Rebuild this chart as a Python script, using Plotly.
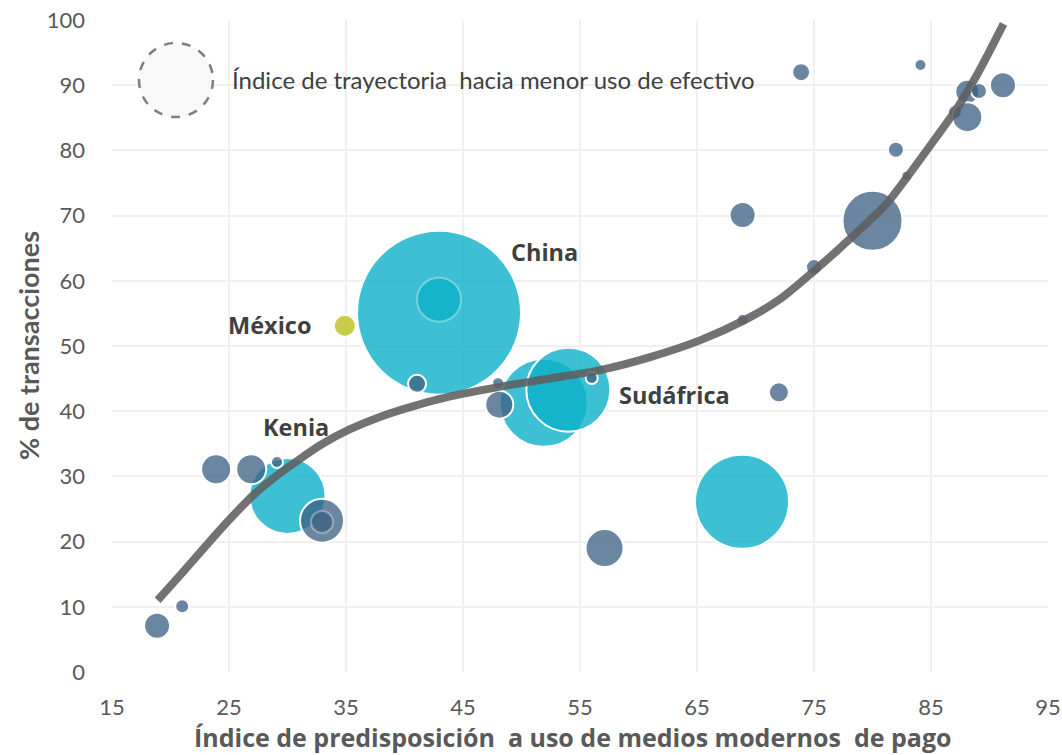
import plotly.graph_objects as go

# ---- data ----
oscuro_x = [18.85, 21.0, 23.9, 26.9, 29.1, 32.95, 32.95, 41.07, 48.0, 48.1, 56.0, 57.1,
            68.9, 68.9, 72.0, 73.9, 75.0, 80.0, 82.0, 82.9, 84.1, 87.05, 88.1, 89.1, 88.1, 91.15]
oscuro_y = [7.1, 10.1, 31.1, 31.1, 32.2, 23.2, 23.0, 44.2, 44.3, 41.0, 45.1, 19.0,
            70.1, 54.0, 42.9, 92.0, 62.1, 69.2, 80.1, 76.1, 93.1, 85.9, 89.0, 89.1, 85.1, 90.0]
oscuro_s = [13, 7, 15, 15, 6, 22, 11, 9, 6, 14, 6, 19,
            13, 6, 10, 9, 8, 30, 8, 5, 6, 7, 12, 8, 15, 13]

turq_x = [30.0, 42.95, 42.95, 51.9, 54.0, 68.85]
turq_y = [27.0, 55.1, 57.1, 41.3, 43.3, 26.1]
turq_s = [38, 82, 22, 44, 42, 47]

mexico_x = [34.9]
mexico_y = [53.1]
mexico_s = [11]

trend_x = [18.9, 21.0, 23.0, 25.0, 27.0, 29.0, 31.0, 33.0, 35.3, 38.0, 41.0, 44.0, 48.0, 52.0,
           56.7, 61.0, 65.3, 69.1, 72.1, 75.0, 77.2, 79.0, 81.2, 83.0, 85.2, 87.2, 88.9, 90.0, 91.2]
trend_y = [11.0, 15.2, 19.3, 23.3, 27.0, 30.0, 32.6, 35.0, 37.2, 39.2, 40.9, 42.3, 43.7, 44.9,
           46.3, 48.3, 50.9, 54.0, 57.2, 61.5, 65.0, 68.0, 71.8, 76.0, 81.4, 86.4, 91.5, 95.2, 99.4]

etiquetas = ["China", "México", "Sudáfrica", "Kenia"]
etq_x = [52.0, 28.5, 63.1, 30.7]
etq_y = [64.4, 53.2, 42.5, 37.6]

x_ticks = [15, 25, 35, 45, 55, 65, 75, 85, 95]
y_ticks = [0, 10, 20, 30, 40, 50, 60, 70, 80, 90, 100]

titulo_x = "Índice de predisposición  a uso de medios modernos  de pago"
titulo_y = "% de transacciones"
leyenda = "Índice de trayectoria  hacia menor uso de efectivo"

# ---- figure ----
fig = go.Figure()

def bubbles(x, y, s, color, inner=()):
    lc = ["rgba(255,255,255,0.35)" if i in inner else "white" for i in range(len(x))]
    fig.add_trace(go.Scatter(
        x=x, y=y, mode="markers", hoverinfo="skip",
        marker=dict(size=s, sizemode="diameter", sizeref=0.5, color=color, opacity=1,
                    line=dict(color=lc, width=2)),
        showlegend=False))

bubbles(turq_x, turq_y, turq_s, "rgba(12,176,200,0.80)", inner=(2,))
bubbles(oscuro_x, oscuro_y, oscuro_s, "rgba(60,96,130,0.76)", inner=(6,))
bubbles(mexico_x, mexico_y, mexico_s, "rgba(196,199,60,0.92)")

fig.add_trace(go.Scatter(
    x=trend_x, y=trend_y, mode="lines", hoverinfo="skip",
    line=dict(color="rgba(95,95,95,0.88)", width=8, shape="spline", smoothing=0.8),
    showlegend=False))

for t, xx, yy in zip(etiquetas, etq_x, etq_y):
    fig.add_annotation(x=xx, y=yy, text="<b>%s</b>" % t, showarrow=False,
                       font=dict(family="Open Sans", size=23.5, color="#404040"))

# legend-like dashed circle
fig.add_shape(type="circle", xref="x", yref="y", xsizemode="pixel", ysizemode="pixel",
              xanchor=20.47, yanchor=90.8, x0=-37, x1=37, y0=-37, y1=37,
              fillcolor="#f8f8f8", line=dict(color="#7f7f7f", width=2.5, dash="dash"))
fig.add_annotation(x=25.1, y=90.8, text=leyenda, showarrow=False, xanchor="left",
                   font=dict(family="Lato", size=24, color="#404040"))

fig.add_annotation(xref="paper", yref="paper", x=0.493, y=-0.0997, text="<b>%s</b>" % titulo_x,
                   showarrow=False, yanchor="middle",
                   font=dict(family="Open Sans", size=25, color="#595959"))
fig.add_annotation(xref="paper", yref="paper", x=-0.0897, y=0.5, text="<b>%s</b>" % titulo_y,
                   showarrow=False, textangle=-90, xanchor="center",
                   font=dict(family="Lato", size=27, color="#595959"))

fig.update_xaxes(range=[15, 95], tickvals=x_ticks, ticktext=[str(v) for v in x_ticks],
                 showgrid=True, gridcolor="#f0f0f0", gridwidth=1.5, zeroline=False,
                 showline=False, ticks="", ticklabelstandoff=20, automargin=False,
                 tickfont=dict(family="Lato", size=22, color="#595959"))
fig.update_yaxes(range=[0, 100], tickvals=y_ticks, ticktext=[str(v) for v in y_ticks],
                 showgrid=True, gridcolor="#f0f0f0", gridwidth=1.5, zeroline=False,
                 showline=False, ticks="", ticklabelstandoff=26, automargin=False,
                 tickfont=dict(family="Lato", size=22, color="#595959"))

fig.update_layout(width=1062, height=755, margin=dict(l=112, r=14, t=20, b=83),
                  plot_bgcolor="white", paper_bgcolor="white")

# remove the default 8px page margin so the figure fills the window exactly
fig.write_html("out.html", config={"displayModeBar": False},
               post_script="document.body.style.margin='0px';")
